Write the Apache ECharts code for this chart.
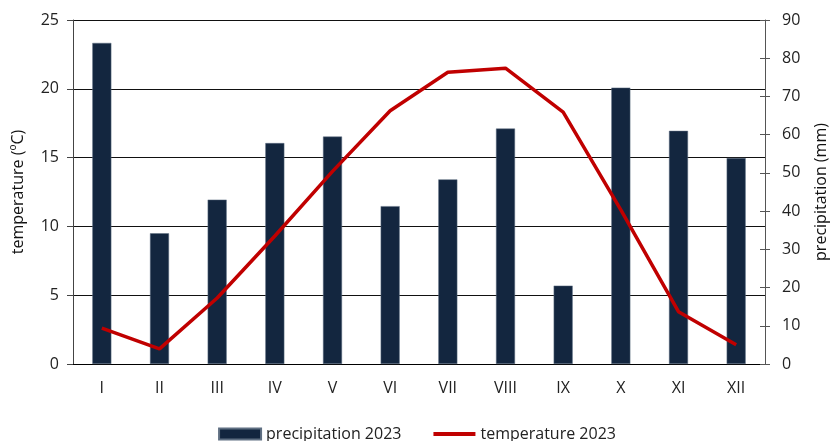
<!DOCTYPE html>
<html><head><meta charset="utf-8">
<script src="https://cdn.jsdelivr.net/npm/echarts@6/dist/echarts.min.js"></script>
<style>html,body{margin:0;padding:0;background:#fff}#c{width:834px;height:441px}</style>
</head><body><div id="c"></div>
<script>
const months = ['I','II','III','IV','V','VI','VII','VIII','IX','X','XI','XII'];
const precipitation = [84, 34.2, 43, 57.8, 59.5, 41.3, 48.3, 61.6, 20.5, 72.3, 61, 53.9];
const temperature = [2.6, 1.1, 4.8, 9.3, 14.0, 18.4, 21.2, 21.5, 18.3, 11.2, 3.8, 1.4];
const tempTicks = [0, 25, 5];
const precTicks = [0, 90, 10];
const FONT = 'Open Sans';
const chart = echarts.init(document.getElementById('c'));
chart.setOption({
  animation: false,
  textStyle: {fontFamily: FONT},
  grid: {left: 73, right: 69, top: 20, bottom: 77, containLabel: false, outerBoundsMode: 'none'},
  legend: {
    top: 421, left: 'center', itemWidth: 42, itemHeight: 11, itemGap: 30,
    textStyle: {fontFamily: FONT, fontSize: 16, color: '#222'},
    lineStyle: {width: 4, color: '#c00000'},
    data: [
      {name: 'precipitation 2023', icon: 'rect'},
      {name: 'temperature 2023', itemStyle: {color: 'rgba(0,0,0,0)', borderWidth: 0}}
    ]
  },
  xAxis: {
    type: 'category', data: months,
    axisLine: {lineStyle: {color: '#000', width: 1}},
    axisTick: {show: false},
    axisLabel: {color: '#222', fontSize: 16, margin: 16, fontFamily: FONT}
  },
  yAxis: [
    {
      type: 'value', position: 'left', min: tempTicks[0], max: tempTicks[1], interval: tempTicks[2],
      name: 'temperature (ºC)', nameLocation: 'middle', nameGap: 47, nameRotate: 90,
      nameTextStyle: {fontSize: 16, color: '#111', fontFamily: FONT},
      axisLine: {show: true, lineStyle: {color: '#444'}},
      axisTick: {show: true, length: 6, lineStyle: {color: '#444'}},
      axisLabel: {color: '#222', fontSize: 16, margin: 14, fontFamily: FONT},
      splitLine: {show: true, lineStyle: {color: '#111', width: 1}}
    },
    {
      type: 'value', position: 'right', min: precTicks[0], max: precTicks[1], interval: precTicks[2],
      name: 'precipitation (mm)', nameLocation: 'middle', nameGap: 48, nameRotate: 90,
      nameTextStyle: {fontSize: 16, color: '#111', fontFamily: FONT},
      axisLine: {show: true, lineStyle: {color: '#555'}},
      axisTick: {show: true, length: 5, lineStyle: {color: '#555'}},
      axisLabel: {color: '#222', fontSize: 16, margin: 17, fontFamily: FONT},
      splitLine: {show: false}
    },
    {
      type: 'value', position: 'right', min: precTicks[0], max: precTicks[1], interval: precTicks[2],
      axisLine: {show: false},
      axisTick: {show: true, inside: true, length: 5, lineStyle: {color: '#555'}},
      axisLabel: {show: false},
      splitLine: {show: false}
    }
  ],
  series: [
    {
      name: 'precipitation 2023', type: 'bar', yAxisIndex: 1, data: precipitation,
      barWidth: 19, itemStyle: {color: '#13263f', borderColor: '#5f6f82', borderWidth: 0.5}
    },
    {
      name: 'temperature 2023', type: 'line', yAxisIndex: 0, data: temperature,
      symbol: 'none', lineStyle: {color: '#c00000', width: 3.5}, itemStyle: {color: '#c00000'}
    }
  ]
});
</script></body></html>
